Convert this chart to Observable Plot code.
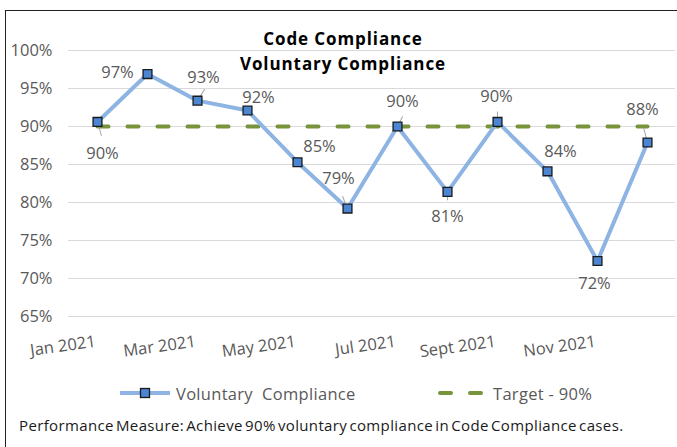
<!DOCTYPE html>
<html>
<head>
<meta charset="utf-8">
<script src="https://cdn.jsdelivr.net/npm/d3@7"></script>
<script src="https://cdn.jsdelivr.net/npm/@observablehq/plot@0.6"></script>
<style>
  html, body { margin: 0; padding: 0; background: #fff; }
  body { width: 677px; height: 447px; overflow: hidden; position: relative; font-family: "Open Sans", sans-serif; }
  #frame { position: absolute; left: 5px; top: 10px; width: 700px; height: 460px; border-left: 1.5px solid #222; border-top: 1.5px solid #222; box-sizing: border-box; pointer-events: none; }
  #chart { position: absolute; left: 0; top: 0; }
  #title { position: absolute; left: 143px; width: 400px; top: 26px; text-align: center; font-weight: 700; font-size: 17px; letter-spacing: 0.9px; line-height: 25px; color: #000; }
  #legend { position: absolute; top: 382px; left: 0; width: 677px; height: 22px; font-size: 16.5px; letter-spacing: 0.3px; color: #595959; }
  .li { position: absolute; top: 0; display: flex; align-items: center; height: 22px; white-space: pre; }
  .li svg { margin-right: 5px; }
  #caption { position: absolute; left: 19px; top: 415px; font-size: 15px; color: #1a1a1a; white-space: nowrap; letter-spacing: 0.36px; word-spacing: -2px; }
</style>
</head>
<body>
<div id="chart"></div>
<div id="title">Code Compliance<br>Voluntary Compliance</div>
<div id="legend"></div>
<div id="caption">Performance Measure: Achieve 90% voluntary compliance in Code Compliance cases.</div>
<div id="frame"></div>
<script>
// ---- data ----
const months = ["Jan","Feb","Mar","Apr","May","Jun","Jul","Aug","Sep","Oct","Nov","Dec"];
const compliance = [90.6, 96.9, 93.4, 92.1, 85.3, 79.2, 90.0, 81.4, 90.6, 84.1, 72.3, 87.9];
const valueLabels = ["90%","97%","93%","92%","85%","79%","90%","81%","90%","84%","72%","88%"];
const target = [90,90,90,90,90,90,90,90,90,90,90,90];
const tickMonths = ["Jan","Mar","May","Jul","Sep","Nov"];
const tickLabels = ["Jan 2021","Mar 2021","May 2021","Jul 2021","Sept 2021","Nov 2021"];
const yTicks = [65,70,75,80,85,90,95,100];
const seriesNames = ["Voluntary  Compliance", "Target - 90%"];

// ---- layout (label placement, not data) ----
const labelOffsets = [[5,32],[-30,-1],[6,-23],[11,-13],[22,-16],[-9,-30],[5,-25],[0,25],[-1,-25],[13,-20],[-3,23],[-5,-33]];
const leaders = [[164,14],null,[32,13],null,null,[-22,13],[27,11],[180,8],[0,10],null,null,[-15,15]];

const lineColor = "#8DB4E2";
const markerFill = "#4A86D4";
const targetColor = "#77933C";
const axisColor = "#595959";
const fs = 16.5;

const rows = months.map((m,i)=>({month:m, value:compliance[i], label:valueLabels[i], target:target[i]}));

const labelMarks = rows.map((r,i)=>Plot.text([r], {
  x:"month", y:"value", text:"label", dx:labelOffsets[i][0], dy:labelOffsets[i][1],
  fill:axisColor, fontSize:fs, lineAnchor:"middle", textAnchor:"middle"
}));
const leaderMarks = rows.map((r,i)=> leaders[i] ? Plot.vector([r], {
  x:"month", y:"value", rotate:leaders[i][0], length:leaders[i][1], anchor:"start",
  stroke:"#a6a6a6", strokeWidth:1, shape:{draw(ctx,l){ctx.moveTo(0,0);ctx.lineTo(0,-l);}}
}) : null).filter(Boolean);

const plot = Plot.plot({
  width: 677,
  height: 370,
  marginLeft: 68,
  marginRight: 2,
  marginTop: 50,
  marginBottom: 54,
  style: {fontFamily: "'Open Sans', sans-serif", background: "transparent", overflow: "visible"},
  x: {type:"point", domain: months, padding: 0.5, axis: null},
  y: {domain: [65,100]},
  marks: [
    Plot.gridY(yTicks, {stroke:"#d9d9d9", strokeOpacity:1, strokeWidth:1}),
    Plot.axisY(yTicks, {tickSize:0, tickPadding:16, tickFormat:d=>d+"%", fontSize:fs, fill:axisColor, label:null}),
    Plot.text(tickMonths, {x:d=>d, frameAnchor:"bottom", text:(d,i)=>tickLabels[i], rotate:-8, textAnchor:"end", lineAnchor:"middle", dy:25, dx:-2, fill:axisColor, fontSize:fs}),
    Plot.line(rows, {x:"month", y:"target", stroke:targetColor, strokeWidth:4, strokeDasharray:"11,19", strokeLinecap:"round"}),
    Plot.line(rows, {x:"month", y:"value", stroke:lineColor, strokeWidth:4, strokeLinejoin:"miter"}),
    ...leaderMarks,
    Plot.dot(rows, {x:"month", y:"value", symbol:"square", r:5, fill:markerFill, stroke:"#1a1a1a", strokeWidth:1.3}),
    ...labelMarks
  ]
});
document.getElementById("chart").appendChild(plot);

// legend
const legend = document.getElementById("legend");
const items = [
  {left:119, svg:`<svg width="52" height="12"><line x1="1" y1="6" x2="51" y2="6" stroke="${lineColor}" stroke-width="4"/><rect x="21.5" y="1.5" width="9" height="9" fill="${markerFill}" stroke="#1a1a1a" stroke-width="1.3"/></svg>`},
  {left:436, svg:`<svg width="52" height="12"><line x1="4" y1="6" x2="48" y2="6" stroke="${targetColor}" stroke-width="4" stroke-linecap="round" stroke-dasharray="11,19"/></svg>`}
];
items.forEach((it,i)=>{
  const d = document.createElement("div");
  d.className = "li";
  d.style.left = it.left + "px";
  d.innerHTML = it.svg + `<span>${seriesNames[i]}</span>`;
  legend.appendChild(d);
});
</script>
</body>
</html>
